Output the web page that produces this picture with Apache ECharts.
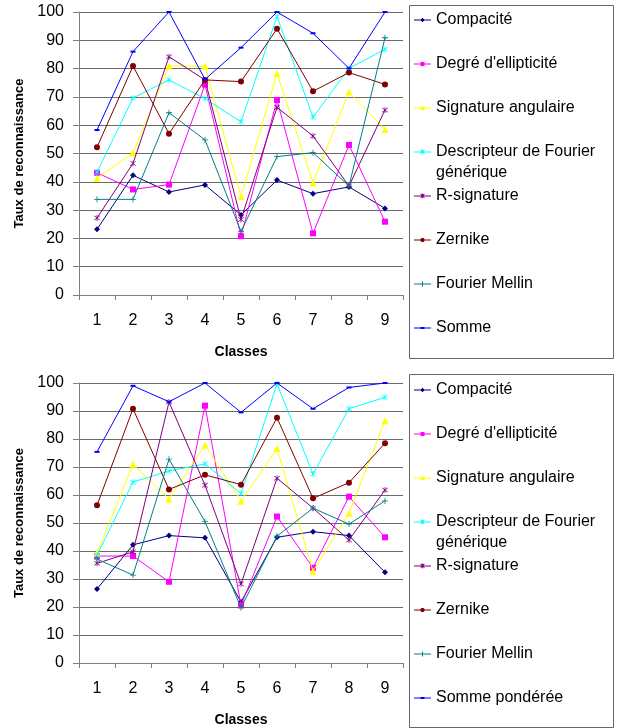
<!DOCTYPE html>
<html>
<head>
<meta charset="utf-8">
<script src="https://cdn.jsdelivr.net/npm/echarts@6/dist/echarts.min.js"></script>
<style>
html,body{margin:0;padding:0;background:#fff;}
#chart{width:622px;height:728px;}
</style>
</head>
<body>
<div id="chart"></div>
<script>
// ---- Data ----
var categories = ['1','2','3','4','5','6','7','8','9'];
var yTicks = [0,10,20,30,40,50,60,70,80,90,100];

var namesTop = ['Compacité', "Degré d'ellipticité", 'Signature angulaire', 'Descripteur de Fourier générique', 'R-signature', 'Zernike', 'Fourier Mellin', 'Somme'];
var namesBottom = ['Compacité', "Degré d'ellipticité", 'Signature angulaire', 'Descripteur de Fourier générique', 'R-signature', 'Zernike', 'Fourier Mellin', 'Somme pondérée'];

// Top chart
var top_compacite   = [23.2, 42.3, 36.4, 38.9, 28.3, 40.6, 35.8, 38.2, 30.6];
var top_degre       = [43.2, 37.3, 39.0, 74.3, 20.8, 68.9, 21.8, 53.0, 25.9];
var top_signature   = [41.2, 50.3, 80.9, 80.9, 34.7, 78.3, 39.7, 71.7, 58.5];
var top_descripteur = [43.4, 69.6, 76.0, 69.4, 61.2, 98.4, 62.8, 80.1, 86.8];
var top_rsignature  = [27.2, 46.5, 84.2, 76.0, 26.7, 66.3, 56.2, 38.5, 65.4];
var top_zernike     = [52.2, 80.9, 57.0, 76.0, 75.4, 94.1, 72.0, 78.6, 74.4];
var top_mellin      = [33.8, 33.8, 64.4, 54.8, 22.4, 48.9, 50.3, 38.5, 90.9];
var top_somme       = [58.3, 86.0, 100, 76.2, 87.4, 100, 92.5, 80.1, 100];

// Bottom chart
var bot_compacite   = [26.4, 42.2, 45.5, 44.7, 21.8, 44.9, 46.9, 45.5, 32.4];
var bot_degre       = [38.2, 38.2, 29.0, 91.9, 20.6, 52.3, 34.0, 59.4, 44.9];
var bot_signature   = [39.3, 71.0, 58.6, 77.9, 57.8, 76.6, 32.8, 53.5, 86.5];
var bot_descripteur = [38.5, 64.6, 68.6, 71.1, 60.5, 99.7, 67.5, 90.8, 94.9];
var bot_rsignature  = [35.6, 39.7, 93.2, 63.5, 28.2, 66.0, 55.3, 43.9, 61.8];
var bot_zernike     = [56.3, 90.8, 62.0, 67.2, 63.7, 87.6, 58.8, 64.4, 78.5];
var bot_mellin      = [37.1, 31.4, 72.8, 50.5, 19.7, 45.3, 55.3, 49.6, 57.9];
var bot_somme       = [75.4, 99.0, 93.3, 100, 89.5, 100, 90.8, 98.4, 100];

var colors = ['#000080', '#FF00FF', '#FFFF00', '#00FFFF', '#800080', '#800000', '#008080', '#0000FF'];
var asterisk = 'path://M4.4,0h1.2v10h-1.2z M0.3,1.6 L1.1,0.8 L9.7,8.4 L8.9,9.2z M0.3,8.4 L8.9,0.8 L9.7,1.6 L1.1,9.2z';
var plus = 'path://M4.3,0h1.4v4.3h4.3v1.4h-4.3v4.3h-1.4v-4.3h-4.3v-1.4h4.3z';
var symbols = ['diamond', 'rect', 'triangle', asterisk, asterisk, 'circle', plus, 'rect'];
var symbolSizes = [6, 6, 7, 6, 6, 6, 6, [5, 2]];

// legend icons: short line with a small marker (17 x 7 box)
var box = 'M0,0 L17,0 L0,0 Z M0,7 L17,7 L0,7 Z ';
var lineP = 'M0,3 h17 v1 h-17 z ';
var legendMarks = [
  'M8.5,1.3 L10.7,3.5 L8.5,5.7 L6.3,3.5 z',
  'M6.5,1.5 h4 v4 h-4 z',
  'M8.5,1 L11,5.6 L6,5.6 z',
  'M8.1,1 h0.8 v5 h-0.8 z M6.3,1.8 L7,1.1 L10.7,4.8 L10,5.5 z M6.3,4.8 L10,1.1 L10.7,1.8 L7,5.5 z',
  'M8.1,1 h0.8 v5 h-0.8 z M6.3,1.8 L7,1.1 L10.7,4.8 L10,5.5 z M6.3,4.8 L10,1.1 L10.7,1.8 L7,5.5 z',
  'M7.5,1.5 h2 l1,1 v2 l-1,1 h-2 l-1,-1 v-2 z',
  'M8,1 h1 v2 h2 v1 h-2 v2 h-1 v-2 h-2 v-1 h2 z',
  'M6.5,2.5 h4 v2 h-4 z'
];
var legendIcons = legendMarks.map(function (m) { return 'path://' + box + lineP + m; });

var topData = [top_compacite, top_degre, top_signature, top_descripteur, top_rsignature, top_zernike, top_mellin, top_somme];
var botData = [bot_compacite, bot_degre, bot_signature, bot_descripteur, bot_rsignature, bot_zernike, bot_mellin, bot_somme];

var FONT = "'Liberation Sans', Arial, sans-serif";

function makeSeries(names, data, idx) {
  return names.map(function (n, i) {
    return {
      name: n,
      type: 'line',
      xAxisIndex: idx,
      yAxisIndex: idx,
      data: data[i],
      symbol: symbols[i],
      symbolSize: symbolSizes[i],
      showAllSymbol: true,
      lineStyle: { color: colors[i], width: 1 },
      itemStyle: { color: colors[i] },
      emphasis: { disabled: true },
      z: 3 + i
    };
  });
}

function xAxisCfg(idx) {
  return {
    type: 'category', gridIndex: idx, data: categories, boundaryGap: true,
    name: 'Classes', nameLocation: 'middle', nameGap: 50,
    nameTextStyle: { fontFamily: FONT, fontSize: 14, fontWeight: 'bold', color: '#000' },
    axisLine: { lineStyle: { color: '#808080', width: 1 } },
    axisTick: { show: true, length: 5, lineStyle: { color: '#808080' } },
    axisLabel: { fontFamily: FONT, fontSize: 16, color: '#000', margin: 18 },
    splitLine: { show: false }
  };
}
function yAxisCfg(idx) {
  return {
    type: 'value', gridIndex: idx, min: yTicks[0], max: yTicks[yTicks.length - 1], interval: 10,
    name: 'Taux de reconnaissance', nameLocation: 'middle', nameGap: 50,
    nameTextStyle: { fontFamily: FONT, fontSize: 13, fontWeight: 'bold', color: '#000' },
    axisLine: { show: true, lineStyle: { color: '#808080', width: 1 } },
    axisTick: { show: true, length: 6, lineStyle: { color: '#808080' } },
    axisLabel: { fontFamily: FONT, fontSize: 16, color: '#000', margin: 15 },
    splitLine: { show: true, lineStyle: { color: '#6a6a6a', width: 1 } }
  };
}
function legendCfg(names, topPx) {
  return {
    data: names.map(function (n, i) { return { name: n, icon: legendIcons[i] }; }),
    orient: 'vertical', left: 414, top: topPx, padding: 0,
    itemWidth: 17, itemHeight: 7, itemGap: 28, selectedMode: false,
    itemStyle: { borderWidth: 0 },
    formatter: function (n) { return n === 'Descripteur de Fourier générique' ? 'Descripteur de Fourier' : n; },
    textStyle: { fontFamily: FONT, fontSize: 16, color: '#000', lineHeight: 16 }
  };
}

var chart = echarts.init(document.getElementById('chart'), null, { renderer: 'canvas' });
chart.setOption({
  animation: false,
  backgroundColor: '#fff',
  grid: [
    { left: 79, top: 12, width: 324, height: 283 },
    { left: 79, top: 383, width: 324, height: 280 }
  ],
  xAxis: [xAxisCfg(0), xAxisCfg(1)],
  yAxis: [yAxisCfg(0), yAxisCfg(1)],
  legend: [legendCfg(namesTop, 12), legendCfg(namesBottom, 382)],
  graphic: [
    { type: 'rect', shape: { x: 409.5, y: 5.5, width: 204, height: 353 }, style: { fill: 'none', stroke: '#666', lineWidth: 1 }, z: -1 },
    { type: 'rect', shape: { x: 409.5, y: 374.5, width: 204, height: 353 }, style: { fill: 'none', stroke: '#666', lineWidth: 1 }, z: -1 },
    { type: 'text', left: 436, top: 165, style: { text: 'générique', font: "16px 'Liberation Sans', Arial, sans-serif", fill: '#000' } },
    { type: 'text', left: 436, top: 535, style: { text: 'générique', font: "16px 'Liberation Sans', Arial, sans-serif", fill: '#000' } }
  ],
  series: makeSeries(namesTop, topData, 0).concat(makeSeries(namesBottom, botData, 1))
});
</script>
</body>
</html>
